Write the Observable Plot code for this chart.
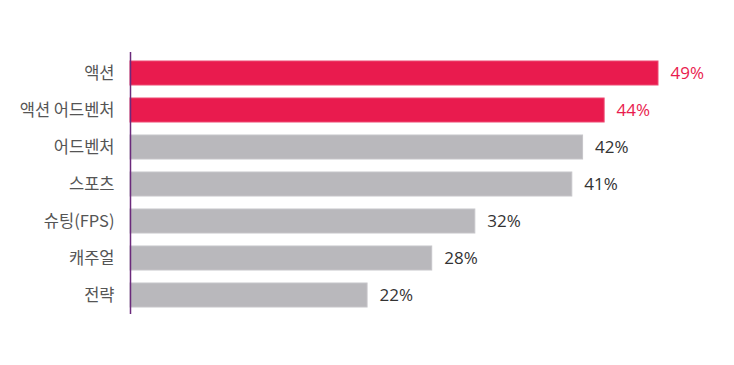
<!DOCTYPE html>
<html>
<head>
<meta charset="utf-8">
<script src="https://cdn.jsdelivr.net/npm/d3@7"></script>
<script src="https://cdn.jsdelivr.net/npm/@observablehq/plot@0.6"></script>
<style>
  html, body { margin: 0; padding: 0; background: #fff; }
</style>
</head>
<body>
<div id="chart"></div>
<script>
const genres = ["액션", "액션 어드벤처", "어드벤처", "스포츠", "슈팅(FPS)", "캐주얼", "전략"];
const shares = [49, 44, 42, 41, 32, 28, 22];
const highlighted = [true, true, false, false, false, false, false];

const data = genres.map((g, i) => ({genre: g, value: shares[i], hi: highlighted[i]}));

const RED = "#e91b4e";
const GRAY = "#b9b8bc";

const chart = Plot.plot({
  width: 734,
  height: 365,
  marginLeft: 130,
  marginRight: 76,
  marginTop: 45,
  marginBottom: 42,
  style: {fontFamily: "'Noto Sans CJK KR', 'Noto Sans', sans-serif", background: "#fff"},
  x: {domain: [0, 49], axis: null},
  y: {domain: genres, padding: 0.363, axis: null},
  marks: [
    Plot.barX(data, {
      x: "value", y: "genre",
      fill: d => d.hi ? RED : GRAY,
      stroke: d => d.hi ? "#ee4a72" : "#c6c5c9",
      strokeWidth: 1
    }),
    Plot.ruleX([0], {stroke: "#6b2a7b", strokeWidth: 1.5, insetTop: 7, insetBottom: 9}),
    Plot.text(data, {
      x: 0, y: "genre",
      text: "genre",
      textAnchor: "end", dx: -16,
      fontSize: 16.5,
      fontFamily: "'Noto Sans CJK KR', 'Noto Sans', sans-serif",
      fill: "#555"
    }),
    Plot.text(data, {
      x: "value", y: "genre",
      text: d => d.value + "%",
      textAnchor: "start", dx: 12,
      fontSize: 17,
      fontFamily: "'Open Sans', sans-serif",
      fill: d => d.hi ? RED : "#333"
    })
  ]
});
document.getElementById("chart").appendChild(chart);
</script>
</body>
</html>
